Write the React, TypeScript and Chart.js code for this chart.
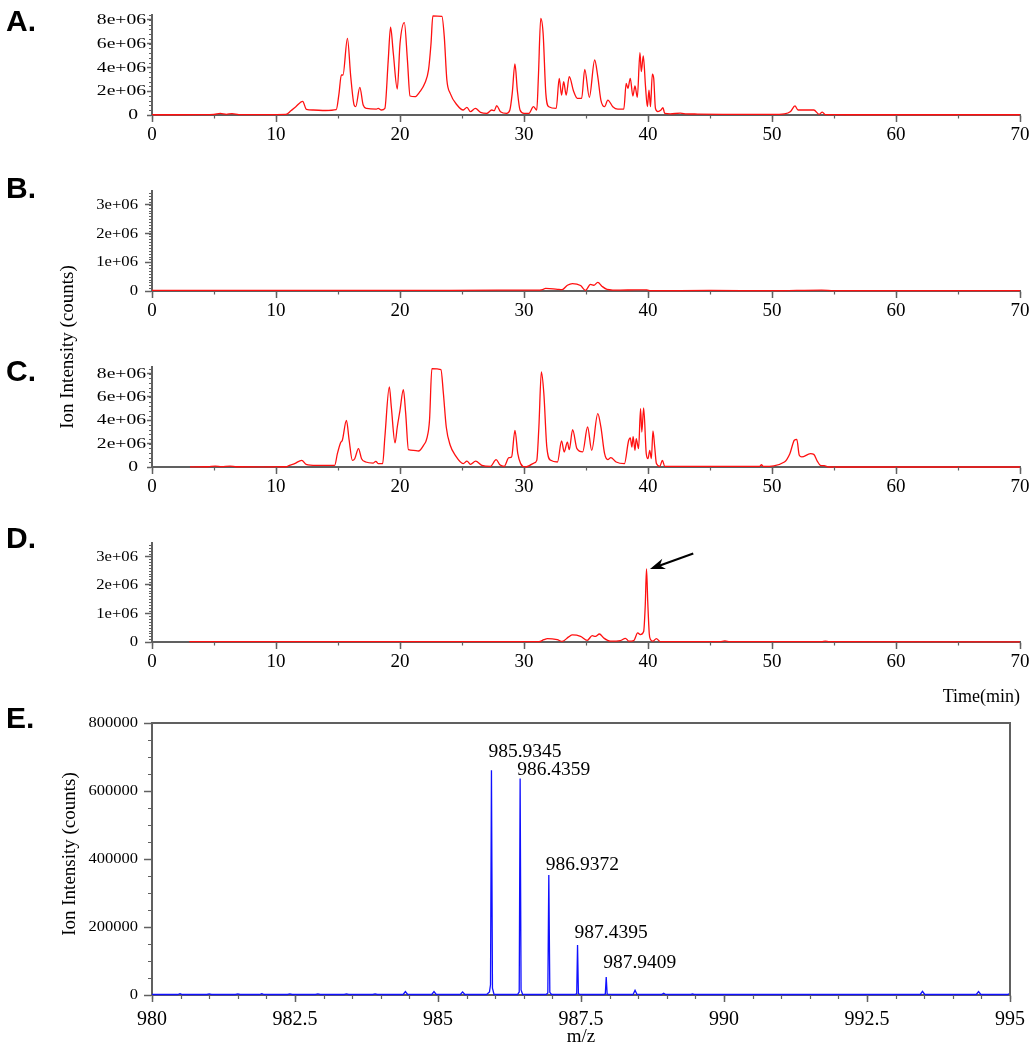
import { useEffect, useRef } from 'react';
import { Chart, registerables } from 'chart.js';

Chart.register(...registerables);

const SERIF = '"Liberation Serif", "Times New Roman", serif';
const SANS = '"Liberation Sans", Arial, sans-serif';
const AXIS = '#606060';

// ---------- data (time in min, intensity in millions of counts) ----------
const traceA: [number, number][] = [
  [0, 0.02], [2, 0.02], [4, 0.03], [5.0, 0.05], [5.5, 0.14], [6.0, 0.06], [6.45, 0.12], [7.0, 0.04], [9.0, 0.03],
  [10.8, 0.05], [11.2, 0.35], [11.6, 0.7], [12.15, 1.15], [12.45, 0.48], [13.0, 0.42], [14.0, 0.38], [14.86, 0.45],
  [15.08, 1.8], [15.27, 3.37], [15.4, 3.37], [15.76, 6.46], [16.03, 3.2], [16.3, 0.84], [16.43, 0.7], [16.76, 2.33],
  [17.03, 0.84], [17.3, 0.56], [18.1, 0.5], [18.24, 0.56], [18.5, 0.42], [18.78, 0.56], [19.05, 4.6], [19.24, 7.4],
  [19.46, 5.2], [19.78, 2.19], [20.0, 6.0], [20.35, 7.78], [20.6, 4.6], [20.81, 1.6], [21.2, 1.54], [21.6, 1.96],
  [22.0, 2.67], [22.3, 3.8], [22.5, 6.0], [22.65, 8.34], [23.38, 8.3], [23.57, 6.6], [23.78, 2.95], [24.05, 1.82],
  [24.6, 0.84], [25.1, 0.42], [25.4, 0.65], [25.68, 0.28], [26.08, 0.56], [26.5, 0.22], [27.0, 0.14], [27.4, 0.42],
  [27.6, 0.36], [27.8, 0.79], [28.1, 0.28], [28.6, 0.14], [28.86, 0.42], [29.05, 1.82], [29.27, 4.3], [29.46, 2.1],
  [29.68, 0.42], [30.0, 0.14], [30.4, 0.14], [30.76, 0.7], [31.03, 0.42], [31.16, 3.2], [31.35, 8.14], [31.54, 6.9],
  [31.76, 1.82], [32.0, 0.7], [32.6, 0.56], [32.84, 3.09], [33.03, 1.68], [33.2, 2.8], [33.4, 1.68], [33.65, 3.23],
  [34.0, 2.0], [34.3, 1.4], [34.65, 1.4], [34.9, 3.85], [35.27, 1.49], [35.7, 4.63], [35.95, 3.23], [36.2, 1.26],
  [36.5, 0.7], [36.76, 1.26], [37.16, 0.7], [37.57, 0.5], [38.05, 0.5], [38.24, 2.67], [38.38, 2.24], [38.57, 3.09],
  [38.78, 1.6], [38.95, 2.44], [39.14, 1.49], [39.35, 5.25], [39.46, 3.65], [39.62, 4.97], [39.8, 2.39], [39.95, 0.7],
  [40.08, 2.1], [40.2, 0.7], [40.35, 3.45], [40.46, 3.09], [40.6, 0.56], [40.8, 0.28], [41.05, 0.42], [41.2, 0.62],
  [41.35, 0.14], [41.8, 0.1], [42.6, 0.15], [43.1, 0.1], [44.0, 0.08], [46.0, 0.06], [48.0, 0.05], [50.0, 0.05],
  [51.0, 0.1], [51.5, 0.3], [51.85, 0.76], [52.1, 0.42], [53.37, 0.42], [53.8, 0.06], [54.06, 0.25], [54.3, 0.03],
  [56.0, 0.02], [70.0, 0.02],
];

const traceB: [number, number][] = [
  [0, 0.02], [10, 0.02], [20, 0.02], [28, 0.03], [31.0, 0.03], [31.5, 0.05], [31.74, 0.09], [32.7, 0.06],
  [33.08, 0.05], [33.5, 0.2], [33.9, 0.26], [34.56, 0.19], [34.96, 0.02], [35.36, 0.23], [35.63, 0.2], [35.95, 0.3],
  [36.3, 0.16], [36.7, 0.06], [37.77, 0.03], [38.98, 0.04], [39.9, 0.04], [40.2, 0.01], [45, 0.02], [50, 0.01],
  [54, 0.03], [55, 0.01], [70, 0.01],
];

const traceC: [number, number][] = [
  [3.06, 0.01], [4.5, 0.02], [5.1, 0.08], [5.6, 0.03], [6.3, 0.07], [6.8, 0.02], [9, 0.01], [10.8, 0.02],
  [11.08, 0.14], [11.5, 0.29], [12.08, 0.57], [12.43, 0.23], [13.24, 0.14], [14.73, 0.14], [14.95, 1.14], [15.2, 2.06],
  [15.35, 2.29], [15.68, 4.0], [15.9, 2.29], [16.16, 0.57], [16.35, 0.71], [16.65, 1.57], [16.9, 0.71], [17.24, 0.43],
  [17.84, 0.34], [18.05, 0.49], [18.24, 0.29], [18.6, 0.29], [18.78, 2.57], [19.14, 6.86], [19.3, 5.14], [19.6, 2.06],
  [19.78, 3.43], [20.0, 4.86], [20.27, 6.63], [20.46, 4.57], [20.68, 1.49], [21.08, 1.43], [21.49, 1.37], [21.9, 1.86],
  [22.16, 2.43], [22.38, 4.0], [22.57, 8.43], [23.3, 8.34], [23.5, 6.3], [23.73, 3.43], [24.05, 1.86], [24.46, 1.0],
  [25.1, 0.29], [25.4, 0.51], [25.68, 0.23], [26.1, 0.51], [26.6, 0.14], [27.3, 0.06], [27.75, 0.63], [28.05, 0.2],
  [28.4, 0.06], [28.78, 0.8], [29.0, 0.86], [29.27, 3.14], [29.5, 1.14], [29.73, 0.29], [30.1, 0.0], [30.46, 0.14],
  [30.8, 0.34], [31.03, 0.57], [31.2, 3.43], [31.4, 8.14], [31.6, 6.3], [31.84, 1.71], [32.16, 0.57], [32.7, 0.43],
  [33.03, 2.23], [33.24, 1.29], [33.5, 2.14], [33.65, 1.49], [33.92, 3.2], [34.27, 1.57], [34.73, 1.29], [35.13, 3.43],
  [35.46, 1.43], [35.95, 4.57], [36.2, 3.43], [36.5, 1.14], [36.76, 0.63], [37.0, 0.8], [37.43, 0.43], [38.1, 0.29],
  [38.43, 2.23], [38.57, 2.5], [38.7, 1.71], [38.8, 2.6], [38.95, 1.43], [39.05, 2.43], [39.24, 1.57], [39.4, 5.0],
  [39.5, 3.0], [39.65, 5.06], [39.86, 1.14], [40.0, 0.71], [40.14, 1.43], [40.27, 0.71], [40.4, 3.09], [40.54, 1.71],
  [40.68, 0.29], [40.95, 0.06], [41.16, 0.57], [41.35, 0.06], [45, 0.05], [49.0, 0.05], [49.15, 0.2], [49.3, 0.05],
  [51.0, 0.43], [51.44, 1.14], [51.8, 2.29], [52.0, 2.37], [52.2, 1.0], [52.4, 0.86], [53.1, 1.14], [53.37, 1.08],
  [53.65, 0.51], [53.9, 0.14], [54.2, 0.11], [54.6, 0.0], [70, 0.0],
];

const traceD: [number, number][] = [
  [3.0, 0.01], [10, 0.01], [20, 0.01], [28, 0.01], [31.2, 0.01], [31.6, 0.08], [31.88, 0.12], [32.68, 0.08],
  [33.08, 0.02], [33.6, 0.18], [33.9, 0.25], [34.56, 0.2], [35.1, 0.06], [35.5, 0.22], [35.76, 0.2], [36.08, 0.28],
  [36.43, 0.14], [36.97, 0.03], [37.77, 0.05], [38.18, 0.13], [38.45, 0.03], [38.85, 0.05], [39.17, 0.32],
  [39.38, 0.26], [39.65, 0.37], [39.78, 1.3], [39.88, 2.56], [39.98, 1.4], [40.1, 0.3], [40.19, 0.1], [40.4, 0.03],
  [40.67, 0.12], [41.0, 0.01], [45.8, 0.01], [46.2, 0.04], [46.6, 0.01], [54.0, 0.01], [54.3, 0.03], [54.6, 0.01],
  [70, 0.005],
];

// m/z, intensity (counts)
const spectrumE: [number, number][] = [
  [980.0, 1500], [980.45, 1500], [980.49, 4000], [980.53, 1500], [980.96, 1500], [981.0, 3500], [981.04, 1500],
  [981.46, 1500], [981.5, 3000], [981.54, 1500], [981.88, 1500], [981.92, 4000], [981.96, 1500], [982.37, 1500],
  [982.41, 3500], [982.45, 1500], [982.86, 1500], [982.9, 3500], [982.94, 1500], [983.36, 1500], [983.4, 3000],
  [983.44, 1500], [983.86, 1500], [983.9, 3000], [983.94, 1500], [984.39, 1500], [984.43, 10000], [984.47, 1500],
  [984.89, 1500], [984.93, 10000], [984.97, 1500], [985.39, 1500], [985.43, 9000], [985.47, 1500], [985.85, 1500],
  [985.9, 9000], [985.918, 30000], [985.9345, 661000], [985.952, 20000], [985.98, 1500], [986.39, 1500],
  [986.42, 9000], [986.4359, 637000], [986.452, 15000], [986.48, 1500], [986.89, 1500], [986.92, 6000],
  [986.9372, 353000], [986.955, 8000], [986.985, 1500], [987.4, 1500], [987.425, 4000], [987.4395, 147000],
  [987.455, 4000], [987.48, 1500], [987.9, 1500], [987.925, 3000], [987.9409, 53000], [987.957, 3000],
  [987.98, 1500], [988.41, 1500], [988.445, 14000], [988.48, 1500], [988.91, 1500], [988.945, 5000], [988.98, 1500],
  [989.42, 1500], [989.45, 3000], [989.48, 1500], [993.43, 1500], [993.47, 11000], [993.51, 1500], [994.41, 1500],
  [994.45, 10000], [994.49, 1500], [994.96, 1500], [995.0, 5000],
];

const peakLabelsE = [
  { mz: 985.9345, text: '985.9345' },
  { mz: 986.4359, text: '986.4359' },
  { mz: 986.9372, text: '986.9372' },
  { mz: 987.4395, text: '987.4395' },
  { mz: 987.9409, text: '987.9409' },
];
const peakLabelLift = [13, 3, 5, 7, 9];

const timeTicks = [0, 10, 20, 30, 40, 50, 60, 70];
const yTicksLarge = [0, 2e6, 4e6, 6e6, 8e6];
const yTicksSmall = [0, 1e6, 2e6, 3e6];
const mzTicks = [980, 982.5, 985, 987.5, 990, 992.5, 995];
const countTicks = [0, 200000, 400000, 600000, 800000];

// arrow annotation in panel D (data coordinates)
const arrowD = { from: { x: 43.65, y: 3.1e6 }, to: { x: 40.16, y: 2.56e6 } };

// ---------- helpers ----------
function sci(v: number): string {
  if (v === 0) return '0';
  const e = Math.floor(Math.log10(v) + 1e-9);
  const m = Math.round(v / Math.pow(10, e));
  return `${m}e+${String(e).padStart(2, '0')}`;
}

const minorTicksPlugin = {
  id: 'minorTicks',
  afterDraw(chart: any, _args: any, opts: any) {
    if (!opts || !opts.x) return;
    const { ctx, chartArea } = chart;
    ctx.save();
    ctx.strokeStyle = AXIS;
    ctx.lineWidth = 1.2;
    const xs = chart.scales.x;
    const ys = chart.scales.y;
    const nx = Math.round((xs.max - xs.min) / opts.x.step);
    ctx.beginPath();
    for (let i = 0; i <= nx; i++) {
      const v = xs.min + i * opts.x.step;
      const px = Math.round(xs.getPixelForValue(v)) + 0.5;
      ctx.moveTo(px, chartArea.bottom);
      ctx.lineTo(px, chartArea.bottom + opts.x.len);
    }
    const ny = Math.floor((ys.max - ys.min) / opts.y.step + 1e-6);
    for (let i = 0; i <= ny; i++) {
      const v = ys.min + i * opts.y.step;
      const py = Math.round(ys.getPixelForValue(v)) + 0.5;
      ctx.moveTo(chartArea.left, py);
      ctx.lineTo(chartArea.left - opts.y.len, py);
    }
    ctx.stroke();
    ctx.restore();
  },
};

// y tick labels drawn with a horizontal stretch, as in the reference figure
const yLabelPlugin = {
  id: 'yLabels',
  afterDraw(chart: any, _args: any, opts: any) {
    if (!opts || !opts.format) return;
    const { ctx } = chart;
    const ys = chart.scales.y;
    ctx.save();
    ctx.fillStyle = '#000';
    ctx.font = `${opts.size}px ${SERIF}`;
    ctx.textAlign = 'right';
    ctx.textBaseline = 'middle';
    ys.ticks.forEach((t: any) => {
      const py = ys.getPixelForValue(t.value);
      const right = t.value === 0 ? opts.zeroRight : opts.right;
      ctx.save();
      ctx.translate(right, py + 0.5);
      ctx.scale(opts.sx, 1);
      ctx.fillText(opts.format(t.value), 0, 0);
      ctx.restore();
    });
    ctx.restore();
  },
};

const boxPlugin = {
  id: 'frameBox',
  afterDraw(chart: any, _args: any, opts: any) {
    if (!opts || !opts.enabled) return;
    const { ctx, chartArea } = chart;
    ctx.save();
    ctx.strokeStyle = AXIS;
    ctx.lineWidth = 2;
    ctx.beginPath();
    ctx.moveTo(chartArea.left, chartArea.top);
    ctx.lineTo(chartArea.right, chartArea.top);
    ctx.lineTo(chartArea.right, chartArea.bottom);
    ctx.stroke();
    ctx.restore();
  },
};

const arrowPlugin = {
  id: 'arrowNote',
  afterDatasetsDraw(chart: any, _args: any, opts: any) {
    if (!opts || !opts.from) return;
    const { ctx } = chart;
    const xs = chart.scales.x;
    const ys = chart.scales.y;
    const x0 = xs.getPixelForValue(opts.from.x);
    const y0 = ys.getPixelForValue(opts.from.y);
    const x1 = xs.getPixelForValue(opts.to.x);
    const y1 = ys.getPixelForValue(opts.to.y);
    const ang = Math.atan2(y1 - y0, x1 - x0);
    const hl = 15;
    const hw = 5.5;
    ctx.save();
    ctx.strokeStyle = '#000';
    ctx.fillStyle = '#000';
    ctx.lineWidth = 2;
    ctx.beginPath();
    ctx.moveTo(x0, y0);
    ctx.lineTo(x1 - Math.cos(ang) * hl * 0.7, y1 - Math.sin(ang) * hl * 0.7);
    ctx.stroke();
    const bx = x1 - Math.cos(ang) * hl;
    const by = y1 - Math.sin(ang) * hl;
    const nx = x1 - Math.cos(ang) * hl * 0.7;
    const ny = y1 - Math.sin(ang) * hl * 0.7;
    ctx.beginPath();
    ctx.moveTo(x1, y1);
    ctx.lineTo(bx - Math.sin(ang) * hw, by + Math.cos(ang) * hw);
    ctx.lineTo(nx, ny);
    ctx.lineTo(bx + Math.sin(ang) * hw, by - Math.cos(ang) * hw);
    ctx.closePath();
    ctx.fill();
    ctx.restore();
  },
};

const peakLabelPlugin = {
  id: 'peakLabels',
  afterDatasetsDraw(chart: any, _args: any, opts: any) {
    if (!opts || !opts.items) return;
    const { ctx } = chart;
    const xs = chart.scales.x;
    const ys = chart.scales.y;
    const pts: [number, number][] = opts.points;
    ctx.save();
    ctx.fillStyle = '#000';
    ctx.font = `19.5px ${SERIF}`;
    ctx.textAlign = 'left';
    ctx.textBaseline = 'alphabetic';
    opts.items.forEach((it: any, i: number) => {
      let peak = 0;
      pts.forEach(([m, v]) => {
        if (Math.abs(m - it.mz) < 0.02 && v > peak) peak = v;
      });
      const px = xs.getPixelForValue(it.mz) - 3;
      const py = ys.getPixelForValue(peak) - opts.lift[i];
      ctx.fillText(it.text, px, py);
    });
    ctx.restore();
  },
};

Chart.register(minorTicksPlugin, yLabelPlugin, boxPlugin, arrowPlugin, peakLabelPlugin);

// ---------- chart configs ----------
type PanelSpec = {
  trace: [number, number][];
  yMax: number;
  yTicks: number[];
  yMinorStep: number;
  yTickLen: number;
  yLabel: { size: number; sx: number; right: number; zeroRight: number };
  arrow?: any;
};

const PAD_TOP = 15;
const X_AXIS_H = 45;

function chromConfig(p: PanelSpec): any {
  return {
    type: 'line',
    data: {
      datasets: [
        {
          data: p.trace.map(([t, v]) => ({ x: t, y: v * 1e6 })),
          borderColor: '#ff1010',
          borderWidth: 1.3,
          pointRadius: 0,
          cubicInterpolationMode: 'monotone',
          fill: false,
          clip: false,
        },
      ],
    },
    options: {
      animation: false,
      responsive: false,
      devicePixelRatio: 1,
      layout: { padding: { top: PAD_TOP, right: 16, bottom: 0, left: 0 } },
      plugins: {
        legend: { display: false },
        tooltip: { enabled: false },
        minorTicks: { x: { step: 5, len: 3.5 }, y: { step: p.yMinorStep, len: 3 } },
        yLabels: { ...p.yLabel, format: sci },
        arrowNote: p.arrow || {},
      },
      scales: {
        x: {
          type: 'linear',
          min: 0,
          max: 70,
          afterBuildTicks: (s: any) => {
            s.ticks = timeTicks.map((v) => ({ value: v }));
          },
          afterFit: (s: any) => {
            s.height = X_AXIS_H;
          },
          ticks: {
            callback: (v: number) => String(v),
            font: { family: SERIF, size: 19 },
            color: '#000',
            padding: 2,
            maxRotation: 0,
            autoSkip: false,
          },
          grid: { drawOnChartArea: false, drawTicks: true, tickLength: 7, tickColor: AXIS, tickWidth: 1.5 },
          border: { display: true, color: AXIS, width: 2 },
        },
        y: {
          type: 'linear',
          min: 0,
          max: p.yMax,
          afterBuildTicks: (s: any) => {
            s.ticks = p.yTicks.map((v) => ({ value: v }));
          },
          afterFit: (s: any) => {
            s.width = 152;
          },
          ticks: { display: false, autoSkip: false },
          grid: { drawOnChartArea: false, drawTicks: true, tickLength: p.yTickLen, tickColor: AXIS, tickWidth: 1.5 },
          border: { display: true, color: AXIS, width: 2 },
        },
      },
    },
  };
}

function spectrumConfig(): any {
  return {
    type: 'line',
    data: {
      datasets: [
        {
          data: spectrumE.map(([m, v]) => ({ x: m, y: v })),
          borderColor: '#1010ff',
          borderWidth: 1.3,
          pointRadius: 0,
          tension: 0,
          fill: false,
          clip: false,
        },
      ],
    },
    options: {
      animation: false,
      responsive: false,
      devicePixelRatio: 1,
      layout: { padding: { top: 23, right: 26, bottom: 0, left: 0 } },
      plugins: {
        legend: { display: false },
        tooltip: { enabled: false },
        minorTicks: { x: { step: 0.5, len: 4 }, y: { step: 50000, len: 4 } },
        frameBox: { enabled: true },
        yLabels: { size: 15, sx: 1.1, right: 138, zeroRight: 138, format: (v: number) => String(v) },
        peakLabels: { items: peakLabelsE, lift: peakLabelLift, points: spectrumE },
      },
      scales: {
        x: {
          type: 'linear',
          min: 980,
          max: 995,
          afterBuildTicks: (s: any) => {
            s.ticks = mzTicks.map((v) => ({ value: v }));
          },
          afterFit: (s: any) => {
            s.height = 40;
          },
          ticks: {
            callback: (v: number) => String(v),
            font: { family: SERIF, size: 20 },
            color: '#000',
            padding: 6,
            maxRotation: 0,
            autoSkip: false,
          },
          grid: { drawOnChartArea: false, drawTicks: true, tickLength: 7, tickColor: AXIS, tickWidth: 1.5 },
          border: { display: true, color: AXIS, width: 2 },
        },
        y: {
          type: 'linear',
          min: 0,
          max: 800000,
          afterBuildTicks: (s: any) => {
            s.ticks = countTicks.map((v) => ({ value: v }));
          },
          afterFit: (s: any) => {
            s.width = 152;
          },
          ticks: { display: false, autoSkip: false },
          grid: { drawOnChartArea: false, drawTicks: true, tickLength: 8, tickColor: AXIS, tickWidth: 1.5 },
          border: { display: true, color: AXIS, width: 2 },
        },
      },
    },
  };
}

function ChartCanvas({ top, height, make }: { top: number; height: number; make: () => any }) {
  const ref = useRef<HTMLCanvasElement | null>(null);
  useEffect(() => {
    if (!ref.current) return;
    const chart = new Chart(ref.current, make());
    return () => chart.destroy();
  }, []);
  return (
    <canvas
      ref={ref}
      width={1036}
      height={height}
      style={{ position: 'absolute', left: 0, top, width: 1036, height, display: 'block' }}
    />
  );
}

function PanelLetter({ text, capTop }: { text: string; capTop: number }) {
  return (
    <div
      style={{
        position: 'absolute',
        left: 6,
        top: capTop - 3.9,
        font: `bold 30px ${SANS}`,
        lineHeight: '30px',
        color: '#000',
        whiteSpace: 'nowrap',
      }}
    >
      {text}
    </div>
  );
}

function VLabel({ text, cx, cy }: { text: string; cx: number; cy: number }) {
  return (
    <div style={{ position: 'absolute', left: cx, top: cy, width: 0, height: 0 }}>
      <div
        style={{
          position: 'absolute',
          left: 0,
          top: 0,
          transform: 'translate(-50%, -50%) rotate(-90deg)',
          font: `19px ${SERIF}`,
          lineHeight: '19px',
          whiteSpace: 'nowrap',
          color: '#000',
        }}
      >
        {text}
      </div>
    </div>
  );
}

const labelsLarge = { size: 14, sx: 1.4, right: 146, zeroRight: 138 };
const labelsSmall = { size: 14, sx: 1.19, right: 138, zeroRight: 138 };

const panelA: PanelSpec = { trace: traceA, yMax: 8.42e6, yTicks: yTicksLarge, yMinorStep: 4e5, yTickLen: 5, yLabel: labelsLarge };
const panelB: PanelSpec = { trace: traceB, yMax: 3.48e6, yTicks: yTicksSmall, yMinorStep: 1e5, yTickLen: 7, yLabel: labelsSmall };
const panelC: PanelSpec = { trace: traceC, yMax: 8.57e6, yTicks: yTicksLarge, yMinorStep: 4e5, yTickLen: 5, yLabel: labelsLarge };
const panelD: PanelSpec = { trace: traceD, yMax: 3.47e6, yTicks: yTicksSmall, yMinorStep: 1e5, yTickLen: 7, yLabel: labelsSmall, arrow: arrowD };

export default function App() {
  return (
    <div style={{ position: 'absolute', left: 0, top: 0, width: 1036, height: 1050, background: '#fff', overflow: 'hidden' }}>
      <ChartCanvas top={15 - PAD_TOP} height={PAD_TOP + 100 + X_AXIS_H} make={() => chromConfig(panelA)} />
      <ChartCanvas top={191 - PAD_TOP} height={PAD_TOP + 100 + X_AXIS_H} make={() => chromConfig(panelB)} />
      <ChartCanvas top={367 - PAD_TOP} height={PAD_TOP + 100 + X_AXIS_H} make={() => chromConfig(panelC)} />
      <ChartCanvas top={543 - PAD_TOP} height={PAD_TOP + 99 + X_AXIS_H} make={() => chromConfig(panelD)} />
      <ChartCanvas top={700} height={23 + 272 + 40} make={spectrumConfig} />

      <PanelLetter text="A." capTop={10} />
      <PanelLetter text="B." capTop={177} />
      <PanelLetter text="C." capTop={360} />
      <PanelLetter text="D." capTop={527} />
      <PanelLetter text="E." capTop={707} />

      <VLabel text="Ion Intensity (counts)" cx={66} cy={347} />
      <VLabel text="Ion Intensity (counts)" cx={68} cy={854} />

      <div
        style={{
          position: 'absolute',
          left: 0,
          width: 1020,
          top: 686.5,
          textAlign: 'right',
          font: `18px ${SERIF}`,
          lineHeight: '18px',
          color: '#000',
        }}
      >
        Time(min)
      </div>
      <div
        style={{
          position: 'absolute',
          left: 481,
          width: 200,
          top: 1026,
          textAlign: 'center',
          font: `19px ${SERIF}`,
          lineHeight: '19px',
          color: '#000',
        }}
      >
        m/z
      </div>
    </div>
  );
}
